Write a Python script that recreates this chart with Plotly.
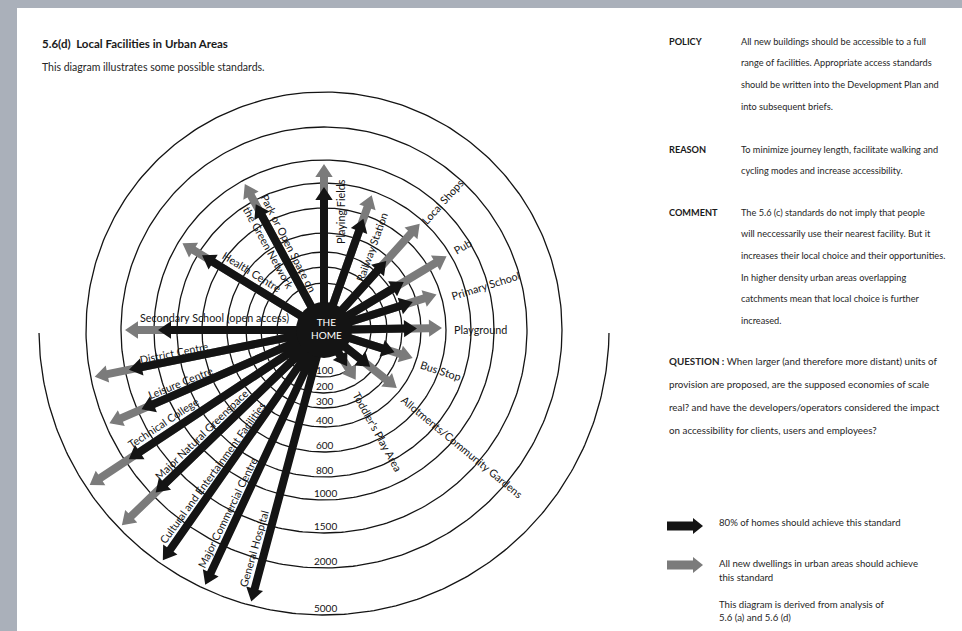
import numpy as np
import plotly.graph_objects as go

# ---------------- data ----------------
FACILITIES = [
    "Playing Fields", "Railway Station", "Local Shops", "Pub", "Primary School",
    "Playground", "Bus Stop", "Allotments/Community Gardens", "Toddler's Play Area",
    "General Hospital", "Major Commercial Centre", "Cultural and Entertainment Facilities",
    "Major Natural Greenspace", "Technical College", "Leisure Centre", "District Centre",
    "Secondary School (open access)", "Health Centre", "Park or Open Space on the Green Network",
]
ANGLE_DEG = [90, 70.5, 48, 31, 17.5, 1, -17.5, -38.5, -57.5,
             -105, -115, -125, -136, -146.5, -156.5, -168.5, 180, 148.5, 118.5]
DIST_80 = [800, 600, 400, 400, 400, 400, 300, 200, 100,
           5000, 5000, 5000, 2000, 2000, 1500, 1500, 1000, 800, 800]
DIST_ALL = [1000, 800, 800, 800, 600, 600, 400, 400, 200,
            None, None, None, 5000, 5000, 2000, 2000, 1500, 1000, 1000]
RING_DIST = [100, 200, 300, 400, 600, 800, 1000, 1500, 2000, 5000]
RING_LABELS = [str(d) for d in RING_DIST]

TITLE = "5.6(d)  Local Facilities in Urban Areas"
SUBTITLE = "This diagram illustrates some possible standards."
POLICY_LINES = ["All new buildings should be accessible to a full",
                "range of facilities. Appropriate access standards",
                "should be written into the Development Plan and",
                "into subsequent briefs."]
REASON_LINES = ["To minimize journey length, facilitate walking and",
                "cycling modes and increase accessibility."]
COMMENT_LINES = ["The 5.6 (c) standards do not imply that people",
                 "will neccessarily use their nearest facility. But it",
                 "increases their local choice and their opportunities.",
                 "In higher density urban areas overlapping",
                 "catchments mean that local choice is further",
                 "increased."]
QUESTION_LINES = ["<b>QUESTION :</b> When larger (and therefore more distant) units of",
                  "provision are proposed, are the supposed economies of scale",
                  "real? and have the developers/operators considered the impact",
                  "on accessibility for clients, users and employees?"]
LEGEND_80 = "80% of homes should achieve this standard"
LEGEND_ALL = ["All new dwellings in urban areas should achieve", "this standard"]
NOTE_LINES = ["This diagram is derived from analysis of", "5.6 (a) and 5.6 (d)"]

# ---------------- diagram scale (distance -> radius in px) ----------------
CX, CY = 324, 330
RING_RADIUS = [47, 63, 78, 97, 122, 147, 170, 203, 238, 285]
TIP_INSET = 4


def rad(d):
    return float(np.interp(d, RING_DIST, RING_RADIUS))


def arrow_poly(cx, cy, ang, length, w=4.0, hw=8.7, hl=13.0):
    t = np.radians(ang)
    ux, uy = np.cos(t), -np.sin(t)
    nx, ny = np.sin(t), np.cos(t)
    s = length - hl
    pts = [(0, w), (s, w), (s, hw), (length, 0), (s, -hw), (s, -w), (0, -w), (0, w)]
    xs = [cx + a * ux + b * nx for a, b in pts]
    ys = [cy + a * uy + b * ny for a, b in pts]
    return xs, ys


def along(ang, r, off):
    """point at radius r along a spoke, shifted off px to its clockwise-side normal"""
    t = np.radians(ang)
    return (CX + r * np.cos(t) + off * np.sin(t), CY - r * np.sin(t) + off * np.cos(t))


BLACK = "#141414"
GREY = "#7b7b7b"
TXT = "#262626"
FONT = "Lato"

fig = go.Figure()

# rings
rx, ry = [], []
for d in RING_DIST:
    r = rad(d)
    if d == 5000:
        th = np.radians(np.linspace(180.6, 359.4, 240))
    else:
        th = np.radians(np.linspace(0, 360, 361))
    rx += list(CX + r * np.cos(th)) + [None]
    ry += list(CY - r * np.sin(th)) + [None]
fig.add_trace(go.Scatter(x=rx, y=ry, mode="lines", line=dict(color=BLACK, width=1.3),
                         hoverinfo="skip", showlegend=False))

# arrows
gx, gy, bx, by = [], [], [], []
for ang, d80, dall in zip(ANGLE_DEG, DIST_80, DIST_ALL):
    if dall is not None:
        xs, ys = arrow_poly(CX, CY, ang, rad(dall) - TIP_INSET)
        gx += xs + [None]
        gy += ys + [None]
    xs, ys = arrow_poly(CX, CY, ang, rad(d80) - TIP_INSET)
    bx += xs + [None]
    by += ys + [None]
fig.add_trace(go.Scatter(x=gx, y=gy, mode="lines", fill="toself", fillcolor=GREY,
                         line=dict(width=0, color=GREY), hoverinfo="skip", showlegend=False))
fig.add_trace(go.Scatter(x=bx, y=by, mode="lines", fill="toself", fillcolor=BLACK,
                         line=dict(width=0, color=BLACK), hoverinfo="skip", showlegend=False))

# legend arrows
lx, ly = arrow_poly(667, 526, 0, 36, w=4.5, hw=8, hl=10)
fig.add_trace(go.Scatter(x=lx, y=ly, mode="lines", fill="toself", fillcolor=BLACK,
                         line=dict(width=0), hoverinfo="skip", showlegend=False))
lx, ly = arrow_poly(667, 565, 0, 36, w=4.5, hw=8, hl=10)
fig.add_trace(go.Scatter(x=lx, y=ly, mode="lines", fill="toself", fillcolor=GREY,
                         line=dict(width=0), hoverinfo="skip", showlegend=False))

shapes = [
    dict(type="rect", xref="x", yref="y", x0=17, y0=8, x1=962, y1=631,
         fillcolor="white", line=dict(width=0), layer="below"),
    dict(type="circle", xref="x", yref="y", x0=CX - 28, y0=CY - 28, x1=CX + 28, y1=CY + 28,
         fillcolor=BLACK, line=dict(width=0), layer="above"),
]

ann = []


def txt(x, y, s, size=10, angle=0, color=TXT, xanchor="center", bold=False, yanchor="middle"):
    ann.append(dict(x=x, y=y, xref="x", yref="y", text=("<b>%s</b>" % s) if bold else s,
                    showarrow=False, textangle=angle, xanchor=xanchor, yanchor=yanchor,
                    font=dict(family=FONT, size=size, color=color)))


# facility labels: (x, y, angle)
LABEL_POS = {
    "Playing Fields": (340, 212, -90),
    "Railway Station": (371, 247, -70),
    "Local Shops": (442, 201, -48),
    "Pub": (462, 246, -30),
    "Primary School": (485, 285, -17.5),
    "Playground": (480, 329, 0),
    "Bus Stop": (441, 370, 18),
    "Allotments/Community Gardens": (462, 446, 39.5),
    "Toddler's Play Area": (378, 431, 61),
    "General Hospital": (253, 549, -74),
    "Major Commercial Centre": (227, 512, -64),
    "Cultural and Entertainment Facilities": (212, 472, -54),
    "Major Natural Greenspace": (201, 434, -44),
    "Technical College": (163, 422, -33.5),
    "Leisure Centre": (180, 382, -22),
    "District Centre": (174, 352, -11.5),
    "Secondary School (open access)": (214, 317, 0),
    "Health Centre": (252, 271, 31.5),
}
for name in FACILITIES:
    if name in LABEL_POS:
        x, y, a = LABEL_POS[name]
        txt(x, y, name, size=10.8, angle=a, color=BLACK)
px_, py_ = along(118.5, 93, 11)
txt(px_, py_, "Park or Open Space on", size=10.8, angle=63, color=BLACK)
px_, py_ = along(118.5, 99, -9)
txt(px_, py_, "the Green Network", size=10.8, angle=61, color=BLACK)

# ring labels
for d, lab in zip(RING_DIST, RING_LABELS):
    txt(CX + 1, CY + rad(d) - 7, lab, size=10, color=BLACK)

# home
txt(CX + 2, CY - 2, "THE<br>HOME", size=10, color="white")

# titles
txt(40, 43, TITLE, size=11.5, xanchor="left", bold=True, color="#1a1a1a")
txt(40, 67, SUBTITLE, size=10.5, xanchor="left")

# right column
BODY = 9.2
txt(667, 41, "POLICY", size=9.2, xanchor="left", bold=True, color="#1a1a1a")
for i, s in enumerate(POLICY_LINES):
    txt(739, 41 + 21.7 * i, s, size=BODY, xanchor="left")
txt(667, 149, "REASON", size=9.2, xanchor="left", bold=True, color="#1a1a1a")
for i, s in enumerate(REASON_LINES):
    txt(739, 149 + 21.7 * i, s, size=BODY, xanchor="left")
txt(667, 212, "COMMENT", size=9.2, xanchor="left", bold=True, color="#1a1a1a")
for i, s in enumerate(COMMENT_LINES):
    txt(739, 212 + 21.7 * i, s, size=BODY, xanchor="left")
for i, s in enumerate(QUESTION_LINES):
    txt(667, 361 + 23 * i, s, size=9.8, xanchor="left")

txt(717, 522, LEGEND_80, size=9.6, xanchor="left")
txt(717, 563, LEGEND_ALL[0], size=9.6, xanchor="left")
txt(717, 577, LEGEND_ALL[1], size=9.6, xanchor="left")
txt(717, 604, NOTE_LINES[0], size=9.6, xanchor="left")
txt(717, 617, NOTE_LINES[1], size=9.6, xanchor="left")

fig.update_layout(
    width=962, height=631, margin=dict(l=0, r=0, t=0, b=0),
    paper_bgcolor="#aab0ba", plot_bgcolor="#aab0ba",
    xaxis=dict(range=[0, 962], visible=False, fixedrange=True),
    yaxis=dict(range=[631, 0], visible=False, fixedrange=True),
    shapes=shapes, annotations=ann, showlegend=False,
)

fig.write_html("out.html", config={"displayModeBar": False},
               post_script="document.body.style.margin='0';document.body.style.overflow='hidden';")
